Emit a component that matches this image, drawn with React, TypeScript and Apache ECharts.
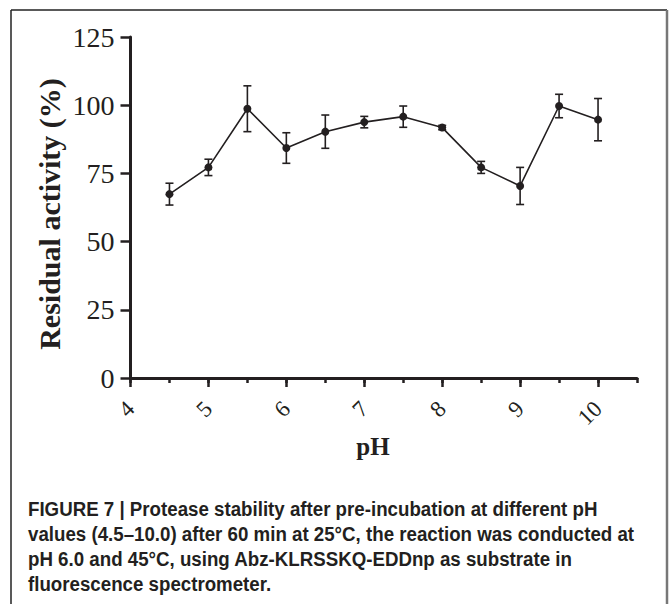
import React, { useEffect, useRef } from "react";
import * as echarts from "echarts";

// pH values (x) and residual activity (%) with symmetric error (SD)
const phValues = [4.5, 5.0, 5.5, 6.0, 6.5, 7.0, 7.5, 8.0, 8.5, 9.0, 9.5, 10.0];
const meanActivity = [67.4, 77.2, 98.7, 84.3, 90.3, 93.8, 95.8, 91.8, 77.2, 70.4, 99.7, 94.7];
const errorSd = [4.0, 3.0, 8.4, 5.6, 6.1, 2.1, 3.9, 0.8, 2.2, 6.8, 4.3, 7.75];
const majorXTicks = [4, 5, 6, 7, 8, 9, 10];
const yTicks = [0, 25, 50, 75, 100, 125];

const yAxisTitle = "Residual activity (%)";
const xAxisTitle = "pH";
const captionLines = [
  "FIGURE 7 | Protease stability after pre-incubation at different pH",
  "values (4.5\u201310.0) after 60 min at 25\u00b0C, the reaction was conducted at",
  "pH 6.0 and 45\u00b0C, using Abz-KLRSSKQ-EDDnp as substrate in",
  "fluorescence spectrometer.",
];

const INK = "#231f20";
const SERIF = "'Liberation Serif', 'Times New Roman', serif";
const SANS = "'Liberation Sans', Arial, sans-serif";

export default function App() {
  const ref = useRef<HTMLDivElement>(null);

  useEffect(() => {
    document.body.style.margin = "0";
    if (!ref.current) return;
    const chart = echarts.init(ref.current, undefined, { renderer: "svg" });

    const lineData = phValues.map((x, i) => [x, meanActivity[i]]);
    const errData = phValues.map((x, i) => [x, meanActivity[i] - errorSd[i], meanActivity[i] + errorSd[i]]);

    const captionGraphics = captionLines.map((t, i) => ({
      type: "text",
      x: 28,
      y: 509 + i * 25,
      scaleX: 0.935,
      style: {
        text: t,
        fill: INK,
        font: `bold 20px ${SANS}`,
        align: "left",
        verticalAlign: "middle",
      },
    }));

    chart.setOption({
      animation: false,
      grid: { left: 130.5, right: 34, top: 37, bottom: 226 },
      xAxis: [
        {
          type: "value",
          position: "bottom",
          min: 4,
          max: 10.5,
          interval: 0.5,
          splitLine: { show: false },
          axisLine: { show: true, lineStyle: { color: INK, width: 3 } },
          axisTick: { show: true, length: 5, lineStyle: { color: INK, width: 2.5 } },
          axisLabel: {
            show: true,
            rotate: 45,
            margin: 27,
            fontSize: 23,
            fontFamily: SERIF,
            color: INK,
            formatter: (v: number) => (majorXTicks.indexOf(v) >= 0 ? String(v) : ""),
          },
        },
        {
          type: "value",
          position: "bottom",
          min: 4,
          max: 10.5,
          interval: 1,
          splitLine: { show: false },
          axisLine: { show: false },
          axisTick: {
            show: true,
            length: 9,
            customValues: majorXTicks,
            lineStyle: { color: INK, width: 2.5 },
          },
          axisLabel: { show: false },
        },
      ],
      yAxis: {
        type: "value",
        min: 0,
        max: 125,
        interval: 25,
        splitLine: { show: false },
        axisLine: { show: true, lineStyle: { color: INK, width: 3 } },
        axisTick: { show: true, length: 10, lineStyle: { color: INK, width: 2.5 } },
        axisLabel: {
          margin: 16,
          fontSize: 28,
          fontFamily: SERIF,
          color: INK,
          customValues: yTicks,
        },
      },
      series: [
        {
          type: "custom",
          xAxisIndex: 0,
          data: errData,
          encode: { x: 0, y: [1, 2] },
          z: 2,
          renderItem: (params: any, api: any) => {
            const x = api.value(0);
            const lo = api.coord([x, api.value(1)]);
            const hi = api.coord([x, api.value(2)]);
            const cap = 4;
            const st = { stroke: INK, lineWidth: 1.6 };
            return {
              type: "group",
              children: [
                { type: "line", shape: { x1: hi[0], y1: hi[1], x2: lo[0], y2: lo[1] }, style: st },
                { type: "line", shape: { x1: hi[0] - cap, y1: hi[1], x2: hi[0] + cap, y2: hi[1] }, style: st },
                { type: "line", shape: { x1: lo[0] - cap, y1: lo[1], x2: lo[0] + cap, y2: lo[1] }, style: st },
              ],
            };
          },
        },
        {
          type: "line",
          xAxisIndex: 0,
          data: lineData,
          symbol: "circle",
          symbolSize: 8,
          z: 3,
          lineStyle: { color: INK, width: 1.6 },
          itemStyle: { color: INK },
        },
      ],
      graphic: [
        { type: "line", shape: { x1: 11, y1: 10, x2: 11, y2: 620 }, style: { stroke: "#222", lineWidth: 1.5 } },
        { type: "line", shape: { x1: 11, y1: 10, x2: 667, y2: 10 }, style: { stroke: "#222", lineWidth: 1.5 } },
        { type: "line", shape: { x1: 667, y1: 10, x2: 667, y2: 620 }, style: { stroke: "#777", lineWidth: 2.5 } },
        {
          type: "text",
          x: 49,
          y: 214,
          rotation: Math.PI / 2,
          style: {
            text: yAxisTitle,
            fill: INK,
            font: `bold 30px ${SERIF}`,
            align: "center",
            verticalAlign: "middle",
          },
        },
        {
          type: "text",
          x: 373,
          y: 446,
          style: {
            text: xAxisTitle,
            fill: INK,
            font: `bold 25px ${SERIF}`,
            align: "center",
            verticalAlign: "middle",
          },
        },
        ...captionGraphics,
      ],
    });

    return () => chart.dispose();
  }, []);

  return <div ref={ref} style={{ width: 671, height: 604 }} />;
}
